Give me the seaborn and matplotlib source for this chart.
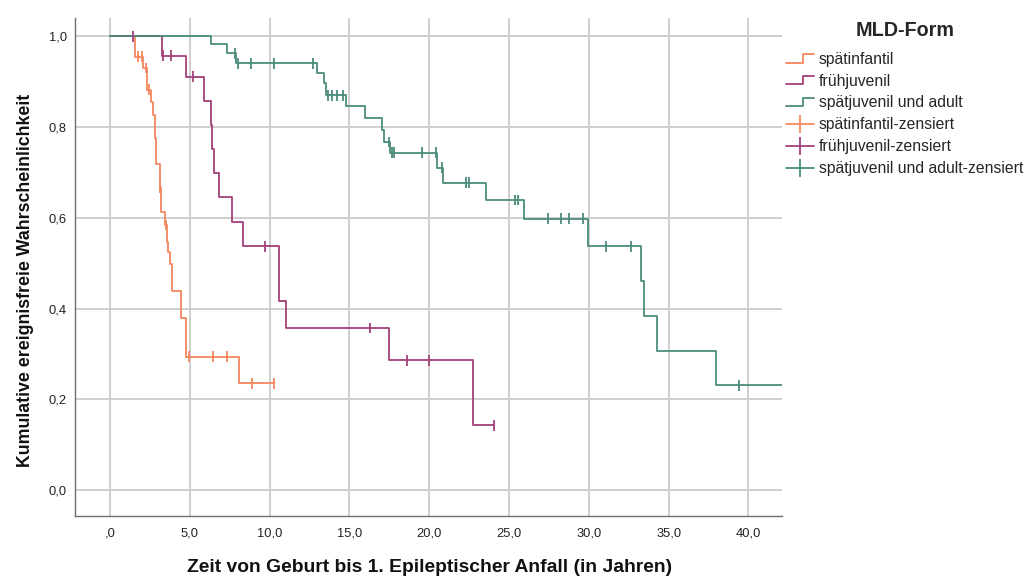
import numpy as np
import pandas as pd
import matplotlib
matplotlib.use("Agg")
import matplotlib.pyplot as plt
import seaborn as sns
from matplotlib.lines import Line2D
from matplotlib.legend_handler import HandlerBase

# --- Kaplan-Meier step data (time in years, cumulative event-free probability) ---
groups = ["spätinfantil", "frühjuvenil", "spätjuvenil und adult"]
colors = ["#F4875F", "#A2417A", "#4B8B7C"]

si_event_t = [1.57, 2.09, 2.33, 2.55, 2.70, 2.82, 2.86, 3.13, 3.22, 3.45, 3.55,
              3.65, 3.76, 3.87, 4.43, 4.76, 8.10]
si_event_s = [0.955, 0.930, 0.882, 0.855, 0.827, 0.775, 0.719, 0.667, 0.613, 0.584,
              0.547, 0.525, 0.499, 0.438, 0.380, 0.294, 0.235]
si_cens_t = [1.77, 1.99, 2.26, 2.46, 3.16, 3.51, 4.97, 6.43, 7.31, 8.88, 10.29]

fj_event_t = [3.25, 4.79, 5.92, 6.31, 6.42, 6.52, 6.85, 7.66, 8.31, 10.59, 11.03,
              17.48, 22.76]
fj_event_s = [0.957, 0.911, 0.858, 0.805, 0.752, 0.698, 0.645, 0.590, 0.537, 0.417,
              0.357, 0.286, 0.143]
fj_cens_t = [1.46, 3.35, 3.80, 5.22, 9.71, 16.29, 18.59, 19.97, 24.06]

sa_event_t = [6.31, 7.31, 7.90, 12.95, 13.43, 13.55, 14.79, 15.98, 17.02, 17.18,
              17.55, 20.47, 20.88, 23.56, 25.96, 29.97, 33.25, 33.46, 34.25, 37.95]
sa_event_s = [0.982, 0.962, 0.940, 0.918, 0.896, 0.870, 0.846, 0.820, 0.794, 0.767,
              0.743, 0.710, 0.677, 0.639, 0.598, 0.537, 0.461, 0.384, 0.307, 0.231]
sa_cens_t = [7.83, 8.00, 8.82, 10.29, 12.70, 13.68, 13.89, 14.20, 14.62, 17.50,
             17.65, 17.80, 19.53, 20.40, 20.78, 22.29, 22.49, 25.38, 25.55, 27.46,
             28.26, 28.78, 29.66, 31.08, 32.64, 39.43, 43.0]

x_ticks = [0, 5, 10, 15, 20, 25, 30, 35, 40]
x_tick_labels = [",0", "5,0", "10,0", "15,0", "20,0", "25,0", "30,0", "35,0", "40,0"]
y_ticks = [0.0, 0.2, 0.4, 0.6, 0.8, 1.0]
y_tick_labels = ["0,0", "0,2", "0,4", "0,6", "0,8", "1,0"]

legend_title = "MLD-Form"
censored_suffix = "-zensiert"
x_label = "Zeit von Geburt bis 1. Epileptischer Anfall (in Jahren)"
y_label = "Kumulative ereignisfreie Wahrscheinlichkeit"

series = {
    groups[0]: (si_event_t, si_event_s, si_cens_t),
    groups[1]: (fj_event_t, fj_event_s, fj_cens_t),
    groups[2]: (sa_event_t, sa_event_s, sa_cens_t),
}

step_rows, cens_rows = [], []
for g, (et, es, ct) in series.items():
    levels = [1.0] + list(es)
    xs = [0.0] + list(et) + [max(ct[-1], et[-1])]
    ys = levels + [levels[-1]]
    for x, y in zip(xs, ys):
        step_rows.append({"t": x, "S": y, "Gruppe": g})
    for c in ct:
        idx = np.searchsorted(et, c, side="right")
        cens_rows.append({"t": c, "S": levels[idx], "Gruppe": g})

steps = pd.DataFrame(step_rows)
cens = pd.DataFrame(cens_rows)
palette = dict(zip(groups, colors))

# --- figure ---
sns.set_theme(style="white")
plt.rcParams["font.family"] = ["Liberation Sans", "DejaVu Sans"]

fig = plt.figure(figsize=(10.33, 5.81), dpi=100)
ax = fig.add_axes([0.0726, 0.112, 0.757 - 0.0726, 0.969 - 0.112])

grid_c = "#cfcfcf"
for xv in x_ticks:
    ax.axvline(xv, color=grid_c, lw=1.4, zorder=0)
for yv in y_ticks:
    ax.axhline(yv, color=grid_c, lw=1.4, zorder=0)

sns.lineplot(data=steps, x="t", y="S", hue="Gruppe", palette=palette,
             estimator=None, sort=False, drawstyle="steps-post",
             linewidth=1.3, legend=False, ax=ax, zorder=3)
sns.scatterplot(data=cens, x="t", y="S", hue="Gruppe", palette=palette,
                marker="|", s=60, linewidth=1.3, legend=False, ax=ax, zorder=4)

ax.set_xlim(-2.19, 42.1)
ax.set_ylim(-0.057, 1.04)
ax.set_xticks(x_ticks)
ax.set_xticklabels(x_tick_labels)
ax.set_yticks(y_ticks)
ax.set_yticklabels(y_tick_labels)
ax.tick_params(axis="both", length=0, labelsize=9.3, colors="#222222")
ax.tick_params(axis="x", pad=8)
ax.tick_params(axis="y", pad=6)

for side in ["top", "right"]:
    ax.spines[side].set_visible(False)
for side in ["left", "bottom"]:
    ax.spines[side].set_color("#6e6e6e")
    ax.spines[side].set_linewidth(1.0)

ax.set_xlabel(x_label, fontsize=13.9, fontweight="bold", color="#111111")
ax.set_ylabel(y_label, fontsize=12.8, fontweight="bold", color="#111111")
ax.xaxis.set_label_coords(0.502, -0.086)
ax.yaxis.set_label_coords(-0.058, 0.474)


class StepHandler(HandlerBase):
    def create_artists(self, legend, orig_handle, xdescent, ydescent,
                       width, height, fontsize, trans):
        x0, y0 = -xdescent, -ydescent
        xs = [x0, x0 + 0.6 * width, x0 + 0.6 * width, x0 + width]
        ys = [y0 + 0.1 * height, y0 + 0.1 * height, y0 + 0.85 * height, y0 + 0.85 * height]
        line = Line2D(xs, ys, color=orig_handle.get_color(),
                      lw=orig_handle.get_linewidth(), transform=trans)
        return [line]


step_handles = [Line2D([0], [0], color=c, lw=1.3) for c in colors]
cens_handles = [Line2D([0], [0], color=c, lw=1.3, marker="|", markersize=13,
                       markeredgewidth=1.3) for c in colors]
handles = step_handles + cens_handles
labels = groups + [g + censored_suffix for g in groups]
handler_map = {h: StepHandler() for h in step_handles}

leg = fig.legend(handles, labels, handler_map=handler_map, loc="upper left",
                 bbox_to_anchor=(0.761, 0.963), frameon=False, fontsize=11.3,
                 title=legend_title, numpoints=1, handlelength=1.8,
                 handletextpad=0.3, labelspacing=0.44, borderpad=0, borderaxespad=0)
leg.get_title().set_fontweight("bold")
leg.get_title().set_fontsize(14.2)
leg._legend_box.sep = 8

fig.savefig("out.png", dpi=100)
